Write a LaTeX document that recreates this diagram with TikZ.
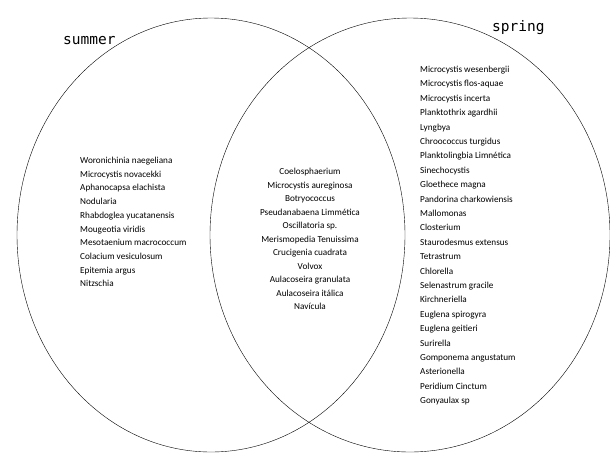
\documentclass[tikz,border=0pt]{standalone}
\usepackage{fontspec}
\setmainfont{Carlito}
\newfontfamily\seasonfont{DejaVu Sans Mono}

\begin{document}
\begin{tikzpicture}[x=1pt,y=-1pt,
		taxa/.style={inner sep=0pt,font=\fontsize{9.2}{13.7}\selectfont},
		season/.style={inner sep=0pt,anchor=base west,font=\seasonfont\fontsize{14.5}{14.5}\selectfont}]
	\useasboundingbox (0,0) rectangle (610,453);
	% the two seasons
	\draw (211,235) ellipse [x radius=194, y radius=217];
	\draw (410,235) ellipse [x radius=200, y radius=217];
	\node[season] (summer) at (63,44) {summer};
	\node[season] (spring) at (492,31) {spring};
	% only in summer
	\node[taxa,align=left,anchor=north west] (onlysummer) at (80,157) {Woronichinia naegeliana\\ Microcystis novacekki\\ Aphanocapsa elachista\\ Nodularia\\ Rhabdoglea yucatanensis\\ Mougeotia viridis\\ Mesotaenium macrococcum\\ Colacium vesiculosum\\ Epitemia argus\\ Nitzschia};
	% in both
	\node[taxa,align=center,anchor=north,font=\fontsize{9.2}{13.5}\selectfont] (both) at (310,168) {Coelosphaerium\\ Microcystis aureginosa\\ Botryococcus\\ Pseudanabaena Limmética\\ Oscillatoria sp.\\ Merismopedia Tenuissima\\ Crucigenia cuadrata\\ Volvox\\ Aulacoseira granulata\\ Aulacoseira itálica\\ Navícula};
	% only in spring
	\node[taxa,align=left,anchor=north west,font=\fontsize{9.2}{14.4}\selectfont] (onlyspring) at (420,66) {Microcystis wesenbergii\\ Microcystis flos-aquae\\ Microcystis incerta\\ Planktothrix agardhii\\ Lyngbya\\ Chroococcus turgidus\\ Planktolingbia Limnética\\ Sinechocystis\\ Gloethece magna\\ Pandorina charkowiensis\\ Mallomonas\\ Closterium\\ Staurodesmus extensus\\ Tetrastrum\\ Chlorella\\ Selenastrum gracile\\ Kirchneriella\\ Euglena spirogyra\\ Euglena geitieri\\ Surirella\\ Gomponema angustatum\\ Asterionella\\ Peridium Cinctum\\ Gonyaulax sp};
\end{tikzpicture}
\end{document}
